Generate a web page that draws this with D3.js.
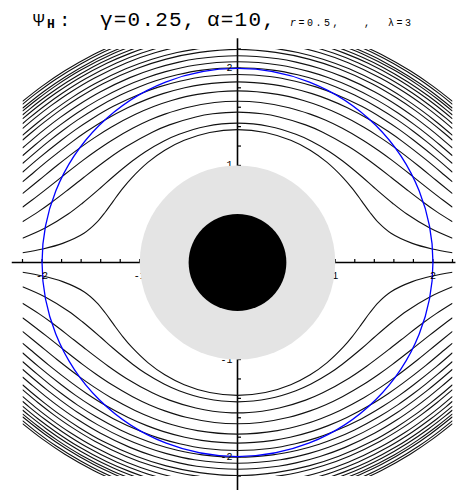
<!DOCTYPE html>
<html>
<head>
<meta charset="utf-8">
<script src="https://cdn.jsdelivr.net/npm/d3@7"></script>
<style>
  body { margin: 0; background: #fff; }
  svg { display: block; }
</style>
</head>
<body>
<div id="chart"></div>
<script>
// streamlines of the upper-left quadrant (x, y in plot units),
// each one running from the left edge towards the vertical axis
const streamlines = [
  [[-2.2,0.10],[-1.995,0.139],[-1.789,0.197],[-1.571,0.301],[-1.443,0.41],[-1.354,0.518],[-1.271,0.633],[-1.172,0.766],[-1.084,0.87],[-0.914,1.034],[-0.744,1.157],[-0.545,1.259],[-0.285,1.34],[0,1.369]],
  [[-2.2,0.25],[-1.968,0.355],[-1.729,0.502],[-1.587,0.611],[-1.403,0.768],[-1.273,0.884],[-1.073,1.048],[-0.946,1.139],[-0.752,1.252],[-0.598,1.321],[-0.327,1.402],[0,1.436]],
  [[-2.2,0.42],[-2.033,0.527],[-1.901,0.621],[-1.752,0.735],[-1.571,0.879],[-1.322,1.069],[-1.141,1.192],[-0.867,1.345],[-0.697,1.418],[-0.427,1.50],[-0.252,1.532],[0,1.55]],
  [[-2.2,0.57],[-2.105,0.641],[-1.96,0.754],[-1.792,0.888],[-1.582,1.052],[-1.45,1.149],[-1.288,1.258],[-1.073,1.383],[-0.898,1.468],[-0.743,1.529],[-0.527,1.595],[-0.235,1.648],[0,1.661]],
  [[-2.2,0.71],[-2.029,0.85],[-1.847,1.0],[-1.616,1.179],[-1.47,1.282],[-1.289,1.396],[-1.049,1.524],[-0.851,1.609],[-0.675,1.669],[-0.41,1.732],[0,1.768]],
  [[-2.2,0.83],[-2.116,0.902],[-1.928,1.06],[-1.69,1.246],[-1.541,1.352],[-1.357,1.469],[-1.119,1.597],[-0.928,1.681],[-0.763,1.74],[-0.539,1.801],[-0.368,1.833],[0,1.861]],
  [[-2.2,0.93],[-2.035,1.073],[-1.803,1.26],[-1.66,1.367],[-1.488,1.482],[-1.271,1.609],[-0.973,1.747],[-0.81,1.807],[-0.592,1.868],[-0.33,1.917],[0,1.937]],
  [[-2.2,1.02],[-2.049,1.151],[-1.932,1.248],[-1.798,1.353],[-1.64,1.467],[-1.447,1.59],[-1.198,1.725],[-1.002,1.811],[-0.836,1.872],[-0.616,1.934],[-0.36,1.982],[0,2.007]],
  [[-2.2,1.10],[-2.072,1.211],[-1.949,1.313],[-1.806,1.423],[-1.638,1.543],[-1.429,1.673],[-1.155,1.814],[-0.932,1.904],[-0.735,1.967],[-0.44,2.033],[0,2.068]],
  [[-2.2,1.18],[-2.094,1.272],[-1.964,1.379],[-1.813,1.495],[-1.632,1.621],[-1.406,1.757],[-1.101,1.905],[-0.844,1.999],[-0.599,2.065],[-0.417,2.099],[0,2.13]],
  [[-2.2,1.26],[-2.114,1.334],[-1.977,1.446],[-1.817,1.568],[-1.622,1.70],[-1.377,1.843],[-1.036,1.997],[-0.73,2.096],[-0.39,2.165],[0,2.196]],
  [[-2.2,1.31],[-2.04,1.445],[-1.883,1.567],[-1.695,1.699],[-1.46,1.841],[-1.143,1.996],[-0.875,2.095],[-0.618,2.164],[-0.428,2.199],[-0.287,2.217],[0,2.231]],
  [[-2.2,1.38],[-2.07,1.49],[-1.908,1.616],[-1.713,1.752],[-1.467,1.899],[-1.133,2.059],[-0.845,2.161],[-0.557,2.231],[0,2.286]],
  [[-2.2,1.43],[-2.133,1.487],[-1.975,1.613],[-1.786,1.749],[-1.551,1.896],[-1.238,2.056],[-0.98,2.158],[-0.745,2.229],[-0.4,2.29]],
  [[-2.2,1.48],[-2.042,1.61],[-1.858,1.746],[-1.632,1.894],[-1.337,2.053],[-1.1,2.155],[-0.897,2.226],[-0.6,2.3]],
  [[-2.2,1.52],[-2.127,1.581],[-1.954,1.715],[-1.744,1.86],[-1.476,2.018],[-1.271,2.118],[-1.103,2.188],[-0.894,2.26]],
  [[-2.2,1.56],[-2.045,1.685],[-1.849,1.828],[-1.603,1.983],[-1.275,2.151],[-1.103,2.221]],
  [[-2.2,1.59],[-1.975,1.767],[-1.756,1.917],[-1.476,2.08],[-1.257,2.184],[-1.078,2.256]],
  [[-2.2,1.63],[-2.064,1.74],[-1.859,1.889],[-1.6,2.049],[-1.405,2.152],[-1.249,2.223]],
  [[-2.2,1.66],[-1.995,1.82],[-1.767,1.975],[-1.473,2.143],[-1.325,2.214]]
];

// edge of the plotted region in the upper-left corner (values beyond are left blank)
const cornerEdge = [[-2.2,1.69],[-2.0,1.85],[-1.77,2.0],[-1.5,2.16],[-1.39,2.2]];

const cellRadius = 2;      // blue circle
const shellRadius = 1;     // grey porous shell
const coreRadius = 0.5;    // black core

const minorTicks = d3.range(-22, 23, 2).map(d => d / 10);
const xTickLabels = [{v: -2, t: "-2"}, {v: -1, t: "-1"}, {v: 1, t: "1"}, {v: 2, t: "2"}];
const yTickLabels = [{v: 2, t: "2"}, {v: 1, t: "1"}, {v: -1, t: "-1"}, {v: -2, t: "-2"}];

const width = 457, height = 490;

const svg = d3.select("#chart").append("svg")
    .attr("width", width)
    .attr("height", height);

const x = d3.scaleLinear().domain([-2.2, 2.2]).range([22.5, 452.5]);
const y = d3.scaleLinear().domain([-2.2, 2.2]).range([476, 49]);

// title
const title = svg.append("g")
    .attr("font-family", "'Liberation Mono', 'DejaVu Sans Mono', monospace")
    .attr("fill", "#000");
title.append("text").attr("x", 33).attr("y", 26).attr("font-size", 19).text("\u03A8");
title.append("text").attr("x", 47).attr("y", 28).attr("font-size", 13).attr("font-weight", "bold").text("H");
title.append("text").attr("x", 59).attr("y", 26).attr("font-size", 19).text(":");
title.append("text").attr("x", 100).attr("y", 26).attr("font-size", 21)
    .attr("letter-spacing", 1.2).text("\u03B3=0.25,");
title.append("text").attr("x", 207).attr("y", 26).attr("font-size", 21)
    .attr("letter-spacing", 1.2).text("\u03B1=10,");
title.append("text").attr("x", 290).attr("y", 26).attr("font-size", 10)
    .attr("letter-spacing", 2.5)
    .html("<tspan font-style='italic'>r</tspan>=0.5,");
title.append("text").attr("x", 364).attr("y", 26).attr("font-size", 10).text(",");
title.append("text").attr("x", 388).attr("y", 26).attr("font-size", 10)
    .attr("letter-spacing", 2.5).text("\u03BB=3");

// axes
const axes = svg.append("g").attr("stroke", "#000");
axes.append("line")
    .attr("x1", x(-2.31)).attr("x2", x(2.23))
    .attr("y1", y(0)).attr("y2", y(0))
    .attr("stroke-width", 1.6);
axes.append("line")
    .attr("x1", x(0)).attr("x2", x(0))
    .attr("y1", y(2.31)).attr("y2", height)
    .attr("stroke-width", 1.6);
axes.selectAll(".xt").data(minorTicks.filter(d => d !== 0)).enter().append("line")
    .attr("x1", d => x(d)).attr("x2", d => x(d))
    .attr("y1", y(0)).attr("y2", y(0) - 3.5)
    .attr("stroke-width", 1.2);
axes.selectAll(".yt").data(minorTicks.filter(d => d !== 0)).enter().append("line")
    .attr("x1", x(0)).attr("x2", x(0) + 3.5)
    .attr("y1", d => y(d)).attr("y2", d => y(d))
    .attr("stroke-width", 1.2);

// clip region: the plotted area of the contour plot
const corner = cornerEdge;
const clipPts = [].concat(
  corner,
  corner.slice().reverse().map(([a, b]) => [-a, b]),
  corner.map(([a, b]) => [-a, -b]),
  corner.slice().reverse().map(([a, b]) => [a, -b])
);
svg.append("clipPath").attr("id", "region")
  .append("polygon")
    .attr("points", clipPts.map(([a, b]) => x(a) + "," + y(b)).join(" "));

const line = d3.line()
    .x(d => x(d[0]))
    .y(d => y(d[1]))
    .curve(d3.curveCatmullRom.alpha(0.5));

const paths = [];
streamlines.forEach(pts => {
  const last = pts[pts.length - 1];
  if (last[0] === 0) {
    const full = pts.concat(pts.slice(0, -1).reverse().map(([a, b]) => [-a, b]));
    paths.push(full, full.map(([a, b]) => [a, -b]));
  } else {
    paths.push(pts,
      pts.map(([a, b]) => [-a, b]),
      pts.map(([a, b]) => [a, -b]),
      pts.map(([a, b]) => [-a, -b]));
  }
});

svg.append("g")
    .attr("clip-path", "url(#region)")
  .selectAll("path")
  .data(paths)
  .enter().append("path")
    .attr("d", line)
    .attr("fill", "none")
    .attr("stroke", "#111")
    .attr("stroke-width", 1.1);

// cell boundary
svg.append("ellipse")
    .attr("cx", x(0)).attr("cy", y(0))
    .attr("rx", x(cellRadius) - x(0))
    .attr("ry", y(0) - y(cellRadius))
    .attr("fill", "none")
    .attr("stroke", "#0000ff")
    .attr("stroke-width", 1.3);

// tick labels
const labels = svg.append("g")
    .attr("font-family", "'Liberation Mono', monospace")
    .attr("font-size", 10)
    .attr("fill", "#000");
labels.selectAll(".xl").data(xTickLabels).enter().append("text")
    .attr("x", d => x(d.v))
    .attr("y", y(0) + 16)
    .attr("text-anchor", "middle")
    .text(d => d.t);
labels.selectAll(".yl").data(yTickLabels).enter().append("text")
    .attr("x", x(0) - 5)
    .attr("y", d => y(d.v) + 3)
    .attr("text-anchor", "end")
    .text(d => d.t);

// porous shell and solid core
svg.append("ellipse")
    .attr("cx", x(0)).attr("cy", y(0))
    .attr("rx", x(shellRadius) - x(0))
    .attr("ry", y(0) - y(shellRadius))
    .attr("fill", "#e4e4e4");
svg.append("ellipse")
    .attr("cx", x(0)).attr("cy", y(0))
    .attr("rx", x(coreRadius) - x(0))
    .attr("ry", y(0) - y(coreRadius))
    .attr("fill", "#000");
</script>
</body>
</html>
